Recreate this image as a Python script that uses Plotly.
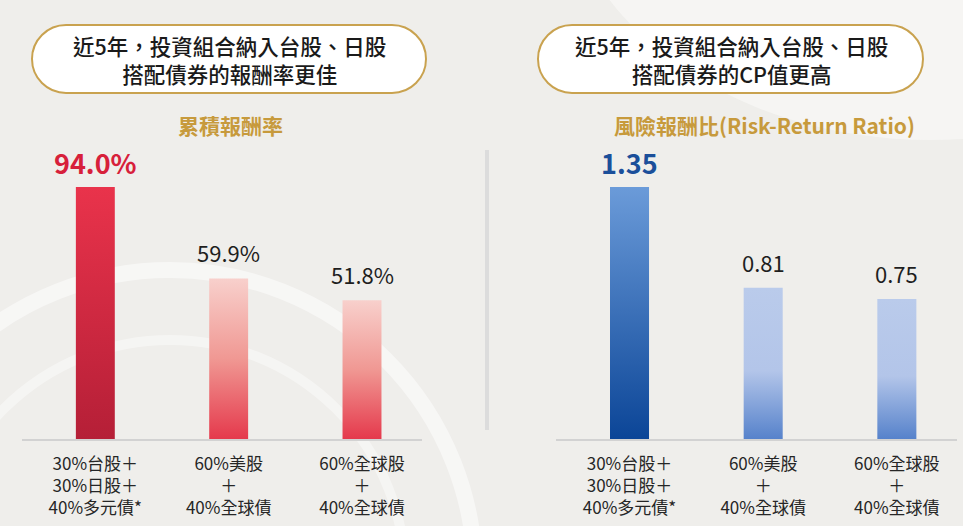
import plotly.graph_objects as go

# data
left_values = [94.0, 59.9, 51.8]
right_values = [1.35, 0.81, 0.75]
left_value_text = ['94.0%', '59.9%', '51.8%']
right_value_text = ['1.35', '0.81', '0.75']
portfolios = [
    ['30%台股＋', '30%日股＋', '40%多元債*'],
    ['60%美股', '＋', '40%全球債'],
    ['60%全球股', '＋', '40%全球債'],
]
left_heading = ['近5年，投資組合納入台股、日股', '搭配債券的報酬率更佳']
right_heading = ['近5年，投資組合納入台股、日股', '搭配債券的CP值更高']
left_title = '累積報酬率'
right_title = '風險報酬比(Risk-Return Ratio)'

W, H = 963, 526
FONT = 'Noto Sans CJK TC'
GOLD = '#c79a3c'
BG = '#efeeeb'


def px(x):
    return x / W


def py(y):
    return 1 - y / H


def pill(x0, y0, x1, y1):
    # rounded "pill" outline in paper coords, ends drawn as bezier half circles
    r = (y1 - y0) / 2
    k = 0.5523 * r
    cy = (y0 + y1) / 2
    pts = [
        ('M', [(x0 + r, y0)]),
        ('L', [(x1 - r, y0)]),
        ('C', [(x1 - r + k, y0), (x1, cy - k), (x1, cy)]),
        ('C', [(x1, cy + k), (x1 - r + k, y1), (x1 - r, y1)]),
        ('L', [(x0 + r, y1)]),
        ('C', [(x0 + r - k, y1), (x0, cy + k), (x0, cy)]),
        ('C', [(x0, cy - k), (x0 + r - k, y0), (x0 + r, y0)]),
    ]
    s = ''
    for cmd, ps in pts:
        s += cmd + ' '.join('%.5f,%.5f' % (px(a), py(b)) for a, b in ps) + ' '
    return s + 'Z'


fig = go.Figure()

hw = 0.146
panels = [
    (left_values, left_value_text, 'x', 'y',
     [[0, '#b51f37'], [1, '#e9334b']],
     [[0, '#e5394c'], [0.5, '#f09893'], [1, '#f8d0cc']],
     '#d7203a'),
    (right_values, right_value_text, 'x2', 'y2',
     [[0, '#0b4597'], [1, '#6b9bd9']],
     [[0, '#5682cb'], [0.45, '#b3c5e9'], [1, '#bacbeb']],
     '#1b4f9a'),
]

annotations = []
for vals, texts, xa, ya, hi_scale, lo_scale, hi_color in panels:
    top = max(vals)
    for i, v in enumerate(vals):
        best = v == top
        fig.add_trace(go.Scatter(
            x=[i - hw, i + hw, i + hw, i - hw, i - hw], y=[0, 0, v, v, 0],
            xaxis=xa, yaxis=ya, mode='lines', fill='toself',
            line=dict(width=0),
            fillgradient=dict(type='vertical', start=0, stop=v,
                              colorscale=hi_scale if best else lo_scale),
            hoverinfo='skip', showlegend=False))
        annotations.append(dict(
            x=i, y=v, xref=xa, yref=ya, text='<b>%s</b>' % texts[i] if best else texts[i],
            showarrow=False, xanchor='center', yanchor='bottom', yshift=3 if best else 8,
            font=dict(family=FONT, size=27 if best else 22,
                      color=hi_color if best else '#1e1e1e')))

for cx, lines in [(229, left_heading), (731, right_heading)]:
    annotations.append(dict(
        x=px(cx), y=py(59), xref='paper', yref='paper', showarrow=False,
        xanchor='center', yanchor='middle',
        text='<br>'.join(lines), align='center',
        font=dict(family=FONT, size=21.5, color='#1a1a1a', weight=500)))

for cx, t in [(230, left_title), (764, right_title)]:
    annotations.append(dict(
        x=px(cx), y=py(125), xref='paper', yref='paper', showarrow=False,
        xanchor='center', yanchor='middle',
        text='<b>%s</b>' % t, font=dict(family=FONT, size=21, color=GOLD)))

shapes = [
    # faint background arcs / light patch
    dict(type='circle', xref='paper', yref='paper', layer='below',
         x0=px(170 - 305), x1=px(170 + 305), y0=py(575 + 305), y1=py(575 - 305),
         line=dict(color='rgba(255,255,255,0.5)', width=16)),
    dict(type='circle', xref='paper', yref='paper', layer='below',
         x0=px(170 - 235), x1=px(170 + 235), y0=py(575 + 235), y1=py(575 - 235),
         line=dict(color='rgba(255,255,255,0.4)', width=10)),
    dict(type='circle', xref='paper', yref='paper', layer='below',
         x0=px(560), x1=px(1300), y0=py(140), y1=py(-420),
         fillcolor='rgba(252,252,250,0.55)', line=dict(width=0)),
    # divider
    dict(type='line', xref='paper', yref='paper', layer='below',
         x0=px(487), x1=px(487), y0=py(150), y1=py(430),
         line=dict(color='#dcdcdc', width=4)),
    dict(type='path', xref='paper', yref='paper', path=pill(32, 25, 426, 93),
         fillcolor='white', line=dict(color='#c9a24f', width=2)),
    dict(type='path', xref='paper', yref='paper', path=pill(538, 25, 923, 93),
         fillcolor='white', line=dict(color='#c9a24f', width=2)),
]

ticktext = ['<br>'.join(p) for p in portfolios]
y0, y1 = py(439), py(187)
axis_x = dict(range=[-0.55, 2.45], tickvals=[0, 1, 2], ticktext=ticktext,
              showgrid=False, zeroline=False, showline=True, linecolor='#d2d2d2',
              linewidth=1.5, ticks='', ticklabelstandoff=9,
              tickfont=dict(family=FONT, size=17, color='#262626'), fixedrange=True)
axis_y = dict(showgrid=False, zeroline=False, showticklabels=False, fixedrange=True)

fig.update_layout(
    width=W, height=H, margin=dict(l=0, r=0, t=0, b=0),
    paper_bgcolor=BG, plot_bgcolor='rgba(0,0,0,0)',
    xaxis=dict(axis_x, domain=[px(22), px(422)], anchor='y'),
    xaxis2=dict(axis_x, domain=[px(556), px(957)], anchor='y2'),
    yaxis=dict(axis_y, domain=[y0, y1], range=[0, max(left_values)], anchor='x'),
    yaxis2=dict(axis_y, domain=[y0, y1], range=[0, max(right_values)], anchor='x2'),
    annotations=annotations, shapes=shapes, showlegend=False,
)

# page body has a default 8px margin; drop it so the figure fills the window
fig.write_html('out.html', config={'displayModeBar': False},
               post_script="document.body.style.margin='0';")
